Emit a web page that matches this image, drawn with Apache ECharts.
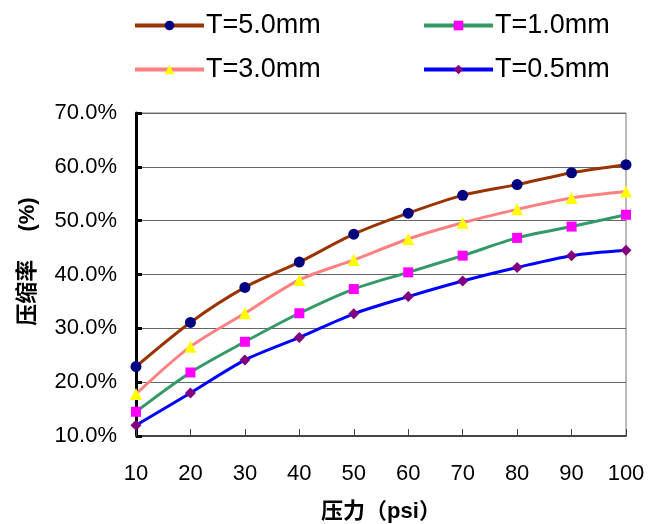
<!DOCTYPE html>
<html>
<head>
<meta charset="utf-8">
<script src="https://cdn.jsdelivr.net/npm/echarts@6/dist/echarts.min.js"></script>
<style>
	html,body{margin:0;padding:0;background:#fff;}
	#main{width:660px;height:524px;}
</style>
</head>
<body>
<div id="main"></div>
<script>
// 压力 (psi)
var pressure = [10, 20, 30, 40, 50, 60, 70, 80, 90, 100];
// 压缩率 (%)，按板厚
var t50 = [22.9, 31.1, 37.6, 42.3, 47.5, 51.4, 54.7, 56.7, 58.9, 60.4];
var t30 = [17.8, 26.6, 32.8, 39.0, 42.7, 46.6, 49.6, 52.1, 54.2, 55.4];
var t10 = [14.5, 21.8, 27.5, 32.8, 37.3, 40.4, 43.5, 46.8, 48.9, 51.1];
var t05 = [12.0, 18.0, 24.1, 28.3, 32.7, 35.9, 38.8, 41.3, 43.5, 44.5];
var names = ['T=5.0mm', 'T=1.0mm', 'T=3.0mm', 'T=0.5mm'];
var yTicks = [10, 20, 30, 40, 50, 60, 70];

var font = 'Liberation Sans, Arial, Noto Sans CJK SC';

function pairs(arr){
	var out = [];
	for(var i in arr){
		out.push([pressure[i], arr[i]]);
	}
	return out;
}

function mkSeries(name, data, lineColor, symbol, symColor, size){
	return {
		name: name,
		type: 'line',
		data: pairs(data),
		smooth: 0.3,
		clip: false,
		symbol: symbol,
		symbolSize: size,
		lineStyle: {color: lineColor, width: 3},
		itemStyle: {color: symColor, borderWidth: 0},
		color: lineColor
	};
}

function mkLegend(name, left, top){
	return {
		data: [name],
		left: left,
		top: top,
		padding: 0,
		itemWidth: 69,
		itemHeight: 12,
		itemGap: 0,
		lineStyle: {width: 4},
		textStyle: {fontSize: 27, color: '#000', fontFamily: font, padding: [0, 0, 0, -3]}
	};
}

var myChart = echarts.init(document.getElementById('main'));
var option = {
	animation: false,
	backgroundColor: '#fff',
	legend: [
		mkLegend(names[0], 133, 12),
		mkLegend(names[1], 422, 12),
		mkLegend(names[2], 133, 56),
		mkLegend(names[3], 422, 56)
	],
	grid: {
		left: 136,
		right: 34,
		top: 113,
		bottom: 88,
		containLabel: false,
		outerBoundsMode: 'none',
		show: true,
		borderColor: '#777',
		borderWidth: 1
	},
	xAxis: {
		type: 'value',
		min: 10,
		max: 100,
		interval: 10,
		name: '压力（psi）',
		nameLocation: 'middle',
		nameGap: 65,
		nameTextStyle: {fontSize: 22, fontWeight: 'bold', color: '#000', fontFamily: font},
		axisLine: {lineStyle: {color: '#444', width: 2}},
		axisTick: {inside: true, length: 7, lineStyle: {color: '#444', width: 1}},
		axisLabel: {fontSize: 22, color: '#000', margin: 27, fontFamily: font},
		splitLine: {show: false}
	},
	yAxis: {
		type: 'value',
		min: yTicks[0],
		max: yTicks[yTicks.length - 1],
		interval: 10,
		name: '压缩率　 (%)',
		nameLocation: 'middle',
		nameRotate: 90,
		nameGap: 97,
		nameTextStyle: {fontSize: 22, fontWeight: 'bold', color: '#000', fontFamily: font, padding: [0, 0, 0, 26]},
		axisLine: {show: true, lineStyle: {color: '#000', width: 3}},
		axisTick: {show: true, inside: true, length: 6, lineStyle: {color: '#000', width: 3}},
		axisLabel: {fontSize: 22, color: '#000', margin: 19, fontFamily: font,
			formatter: function(v){ return v.toFixed(1) + '%'; }},
		splitLine: {lineStyle: {color: '#666', width: 1}}
	},
	series: [
		mkSeries(names[0], t50, '#993300', 'circle', '#000080', 11),
		mkSeries(names[2], t30, '#FF8080', 'triangle', '#FFFF00', 12),
		mkSeries(names[1], t10, '#339966', 'rect', '#FF00FF', 10),
		mkSeries(names[3], t05, '#0000FF', 'diamond', '#800080', 11)
	]
};
myChart.setOption(option, true);
</script>
</body>
</html>
